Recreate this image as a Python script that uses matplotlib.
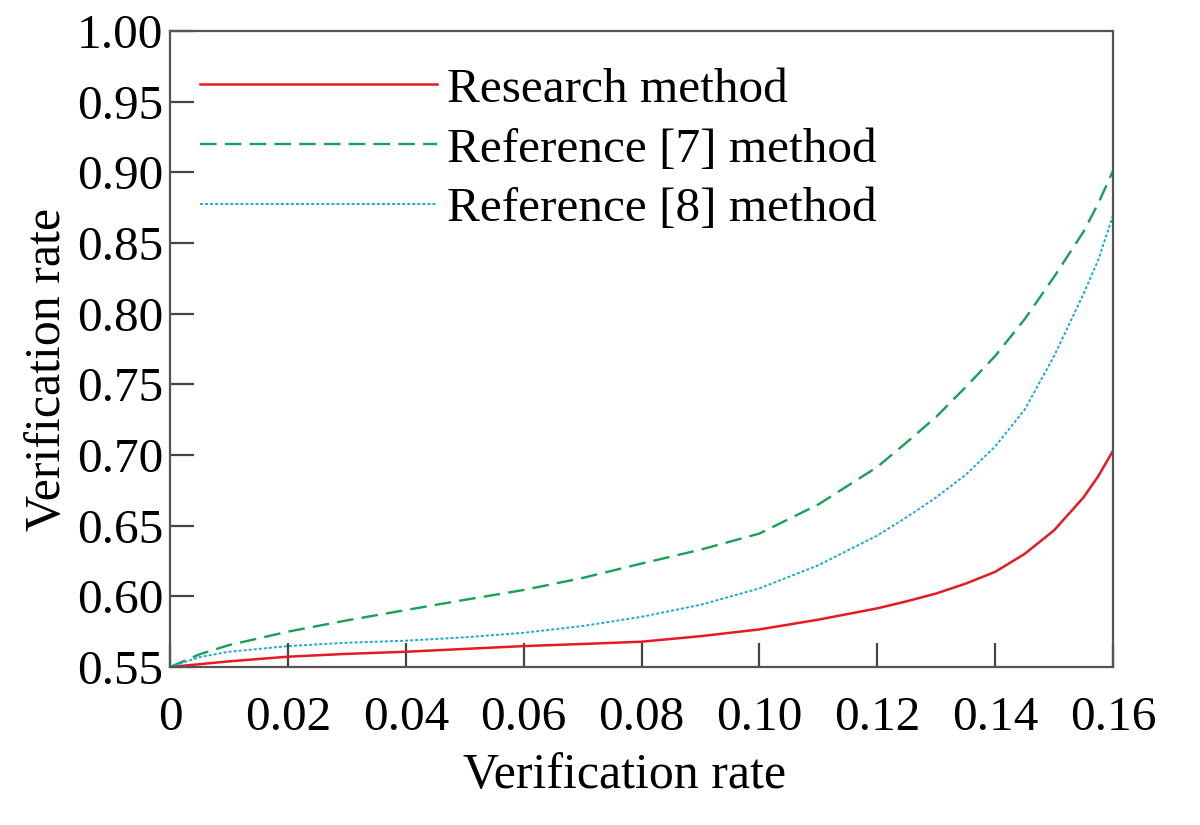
import matplotlib
matplotlib.use("Agg")
import matplotlib.pyplot as plt

plt.rcParams['font.family'] = ['Liberation Serif', 'DejaVu Serif']

# values
x = [0, 0.005, 0.01, 0.02, 0.03, 0.04, 0.05, 0.06, 0.07, 0.08, 0.09, 0.10,
     0.11, 0.12, 0.125, 0.13, 0.135, 0.14, 0.145, 0.15, 0.155, 0.1575, 0.16]
research = [0.550, 0.552, 0.554, 0.5573, 0.5593, 0.5608, 0.5628, 0.5648, 0.5663, 0.5679,
            0.5718, 0.5766, 0.5835, 0.5915, 0.5965, 0.6020, 0.6090, 0.6173, 0.6300,
            0.6467, 0.6700, 0.6850, 0.7030]
ref7 = [0.550, 0.559, 0.5655, 0.5750, 0.5830, 0.5903, 0.5975, 0.6045, 0.6130, 0.6232,
        0.6330, 0.6444, 0.6650, 0.6915, 0.7090, 0.7270, 0.7480, 0.7700, 0.7960,
        0.8260, 0.8580, 0.8780, 0.9010]
ref8 = [0.550, 0.5570, 0.5608, 0.5648, 0.5672, 0.5686, 0.5710, 0.5742, 0.5790, 0.5855,
        0.5940, 0.6056, 0.6220, 0.6430, 0.6560, 0.6700, 0.6860, 0.7060, 0.7320,
        0.7700, 0.8140, 0.8380, 0.8695]
labels = ['Research method', 'Reference [7] method', 'Reference [8] method']
xticks = [0, 0.02, 0.04, 0.06, 0.08, 0.10, 0.12, 0.14, 0.16]
xtick_labels = ['0', '0.02', '0.04', '0.06', '0.08', '0.10', '0.12', '0.14', '0.16']
yticks = [0.55, 0.60, 0.65, 0.70, 0.75, 0.80, 0.85, 0.90, 0.95, 1.00]

fig = plt.figure(figsize=(12, 8.25), dpi=100)
ax = fig.add_axes([0.1417, 0.1915, 0.7858, 0.771])

ax.plot(x, research, color='#e51a23', lw=1.8, label=labels[0])
ax.plot(x, ref7, color='#16a155', lw=1.7, dashes=(7, 3.5), label=labels[1])
ax.plot(x, ref8, color='#1aa8d6', lw=1.4, dashes=(1.5, 1.1), label=labels[2])

ax.set_xlim(0, 0.16)
ax.set_ylim(0.55, 1.00)
ax.set_xticks(xticks)
ax.set_xticklabels(xtick_labels)
ax.set_yticks(yticks)
ax.set_yticklabels(['%.2f' % v for v in yticks])

for s in ax.spines.values():
    s.set_color('#555555')
    s.set_linewidth(1.6)
ax.tick_params(axis='x', direction='in', length=17, width=1.6, color='#444444',
               labelsize=35.5, pad=21)
ax.tick_params(axis='y', direction='in', length=17, width=1.6, color='#444444',
               labelsize=35.5, pad=5)

ax.set_xlabel('Verification rate', fontsize=36)
ax.set_ylabel('Verification rate', fontsize=36)
ax.xaxis.set_label_coords(0.4825, -0.135)
ax.yaxis.set_label_coords(-0.105, 0.468)

ax.legend(loc='upper left', bbox_to_anchor=(0.011, 0.974), frameon=False, fontsize=35.5,
          handlelength=4.8, handletextpad=0.2, labelspacing=0.31, borderaxespad=0)

fig.savefig('out.png', dpi=100)
